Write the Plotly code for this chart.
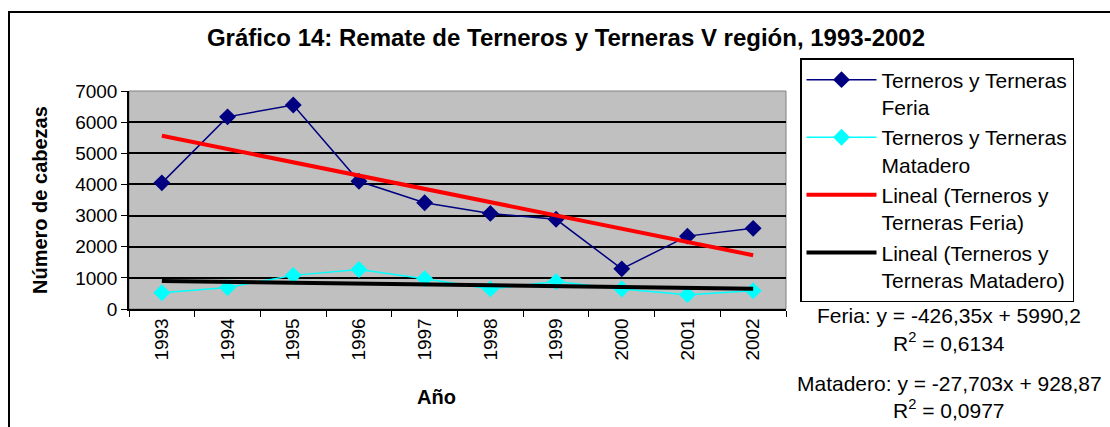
import plotly.graph_objects as go

# ---- data ----
years = ["1993", "1994", "1995", "1996", "1997", "1998", "1999", "2000", "2001", "2002"]
feria = [4050, 6170, 6550, 4100, 3410, 3070, 2880, 1290, 2340, 2590]
matadero = [520, 690, 1080, 1270, 975, 645, 880, 640, 460, 585]
feria_slope, feria_intercept, feria_r2 = -426.35, 5990.2, 0.6134
mat_slope, mat_intercept, mat_r2 = -27.703, 928.87, 0.0977
y_ticks = [0, 1000, 2000, 3000, 4000, 5000, 6000, 7000]

x_idx = list(range(1, len(years) + 1))
feria_trend = [feria_slope * x + feria_intercept for x in x_idx]
mat_trend = [mat_slope * x + mat_intercept for x in x_idx]

FONT = "Arial, Liberation Sans, sans-serif"

fig = go.Figure()
fig.add_trace(go.Scatter(
    x=years, y=feria, mode="lines+markers",
    name="Terneros y Terneras<br>Feria",
    line=dict(color="#000080", width=1.5),
    marker=dict(symbol="diamond", size=13, color="#000080"),
))
fig.add_trace(go.Scatter(
    x=years, y=matadero, mode="lines+markers",
    name="Terneros y Terneras<br>Matadero",
    line=dict(color="#00FFFF", width=1.5),
    marker=dict(symbol="diamond", size=13, color="#00FFFF"),
))
fig.add_trace(go.Scatter(
    x=years, y=feria_trend, mode="lines",
    name="Lineal (Terneros y<br>Terneras Feria)",
    line=dict(color="#FF0000", width=4),
))
fig.add_trace(go.Scatter(
    x=years, y=mat_trend, mode="lines",
    name="Lineal (Terneros y<br>Terneras Matadero)",
    line=dict(color="#000000", width=4),
))

L, R, T, B = 129, 786, 91, 309
W, H = 1110, 427
pw, ph = R - L, B - T

def px(x):
    return (x - L) / pw

def py(y):
    return (B - y) / ph

fmt = lambda v: f"{v}".replace(".", ",")

fig.update_layout(
    width=W, height=H,
    margin=dict(l=L, r=W - R, t=T, b=H - B),
    paper_bgcolor="white",
    plot_bgcolor="#C0C0C0",
    font=dict(family=FONT, size=19, color="black"),
    title=dict(
        text="<b>Gráfico 14: Remate de Terneros y Terneras V región, 1993-2002</b>",
        x=566 / W, xanchor="center", y=1 - 38 / H, yanchor="middle",
        font=dict(family=FONT, size=24, color="black"),
    ),
    showlegend=True,
    legend=dict(
        x=px(800), xanchor="left", y=py(58), yanchor="top",
        bgcolor="white", bordercolor="black", borderwidth=1.5,
        font=dict(family=FONT, size=21, color="black"),
        valign="top", itemwidth=70, maxheight=320,
    ),
    xaxis=dict(
        type="category", range=[-0.5, len(years) - 0.5],
        tickson="boundaries", ticks="outside", ticklen=6, tickcolor="black",
        tickangle=-90, showline=True, linecolor="black", linewidth=1.5,
        showgrid=False, tickfont=dict(size=19), zeroline=False,
    ),
    yaxis=dict(
        range=[0, 7000], tickvals=y_ticks, ticks="outside", ticklen=6,
        tickcolor="black", showline=True, linecolor="black", linewidth=1.5,
        showgrid=True, gridcolor="black", gridwidth=1.5, zeroline=False,
        tickfont=dict(size=19),
    ),
    shapes=[
        dict(type="rect", xref="paper", yref="paper", x0=0, x1=1, y0=0, y1=1,
             line=dict(color="#808080", width=1), layer="below"),
        dict(type="rect", xref="paper", yref="paper",
             x0=px(9), x1=px(1130), y0=py(440), y1=py(12),
             line=dict(color="black", width=2)),
    ],
    annotations=[
        dict(text="<b>Número de cabezas</b>", textangle=-90, x=px(40), y=0.5,
             xref="paper", yref="paper", showarrow=False,
             font=dict(size=20), xanchor="center", yanchor="middle"),
        dict(text="<b>Año</b>", x=px(436), y=py(397), xref="paper", yref="paper",
             showarrow=False, font=dict(size=20), xanchor="center", yanchor="middle"),
        dict(text=f"Feria: y = {fmt(feria_slope)}x + {fmt(feria_intercept)}",
             x=px(949), y=py(315), xref="paper", yref="paper", showarrow=False,
             font=dict(size=21), xanchor="center", yanchor="middle"),
        dict(text=f"R<sup>2</sup> = {fmt(feria_r2)}",
             x=px(949), y=py(342), xref="paper", yref="paper", showarrow=False,
             font=dict(size=21), xanchor="center", yanchor="middle"),
        dict(text=f"Matadero: y = {fmt(mat_slope)}x + {fmt(mat_intercept)}",
             x=px(949), y=py(383), xref="paper", yref="paper", showarrow=False,
             font=dict(size=21), xanchor="center", yanchor="middle"),
        dict(text=f"R<sup>2</sup> = {fmt(mat_r2)}",
             x=px(949), y=py(409), xref="paper", yref="paper", showarrow=False,
             font=dict(size=21), xanchor="center", yanchor="middle"),
    ],
)

fig.write_html("out.html", post_script="document.body.style.margin='0';",
               config={"displayModeBar": False})
